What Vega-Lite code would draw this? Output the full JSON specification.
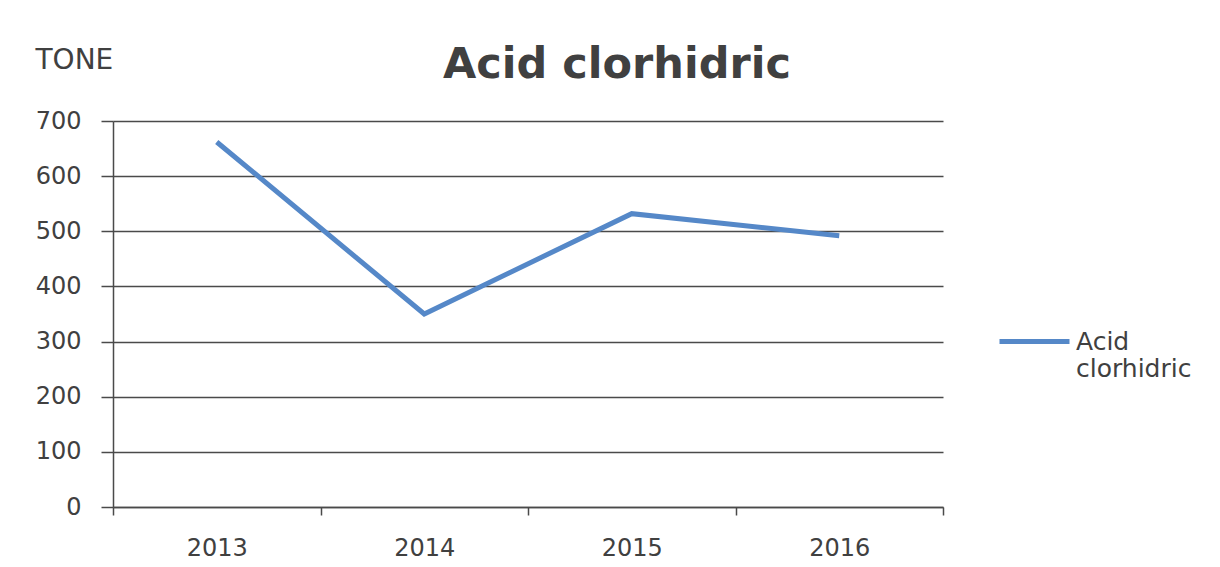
{
  "$schema": "https://vega.github.io/schema/vega-lite/v6.json",
  "width": 830,
  "height": 386,
  "autosize": {"type": "none"},
  "padding": {"left": 113, "top": 121, "right": 277, "bottom": 60},
  "background": "white",
  "title": {
    "text": "Acid clorhidric",
    "font": "DejaVu Sans",
    "fontSize": 43,
    "fontWeight": "bold",
    "color": "#404040",
    "anchor": "middle",
    "frame": "group",
    "dx": 89,
    "offset": -41
  },
  "data": {
    "values": [
      {"year": "2013", "value": 662, "series": "Acid clorhidric"},
      {"year": "2014", "value": 350, "series": "Acid clorhidric"},
      {"year": "2015", "value": 532, "series": "Acid clorhidric"},
      {"year": "2016", "value": 492, "series": "Acid clorhidric"}
    ]
  },
  "mark": {"type": "line", "strokeWidth": 5, "strokeJoin": "miter"},
  "encoding": {
    "x": {
      "field": "year",
      "type": "nominal",
      "scale": {"type": "band", "paddingInner": 0, "paddingOuter": 0},
      "axis": {
        "title": null,
        "labelAngle": 0,
        "tickBand": "extent",
        "grid": false,
        "domainColor": "#4a4a4a",
        "domainWidth": 1.5,
        "tickColor": "#4a4a4a",
        "tickWidth": 1.5,
        "tickSize": 8,
        "labelFont": "DejaVu Sans",
        "labelFontSize": 24,
        "labelColor": "#404040",
        "labelPadding": 21
      }
    },
    "y": {
      "field": "value",
      "type": "quantitative",
      "scale": {"domain": [0, 700], "nice": false},
      "axis": {
        "values": [0, 100, 200, 300, 400, 500, 600, 700],
        "title": "TONE",
        "titleAngle": 0,
        "titleX": -78,
        "titleY": -61,
        "titleAlign": "left",
        "titleBaseline": "middle",
        "titleFont": "DejaVu Sans",
        "titleFontSize": 28,
        "titleFontWeight": "normal",
        "titleColor": "#404040",
        "grid": true,
        "gridColor": "#4a4a4a",
        "gridWidth": 1.5,
        "domainColor": "#4a4a4a",
        "domainWidth": 1.5,
        "tickColor": "#4a4a4a",
        "tickWidth": 1.5,
        "tickSize": 12,
        "labelFont": "DejaVu Sans",
        "labelFontSize": 24,
        "labelColor": "#404040",
        "labelPadding": 20
      }
    },
    "color": {
      "field": "series",
      "type": "nominal",
      "scale": {"range": ["#5588C8"]},
      "legend": {
        "title": null,
        "orient": "none",
        "legendX": 884,
        "legendY": 183,
        "symbolType": "stroke",
        "symbolSize": 4900,
        "symbolStrokeWidth": 5,
        "labelFont": "DejaVu Sans",
        "labelFontSize": 25,
        "labelColor": "#404040",
        "labelLineHeight": 33,
        "labelOffset": 4,
        "labelLimit": 300,
        "labelExpr": "split(datum.label, ' ')"
      }
    }
  },
  "config": {"view": {"stroke": null}}
}
